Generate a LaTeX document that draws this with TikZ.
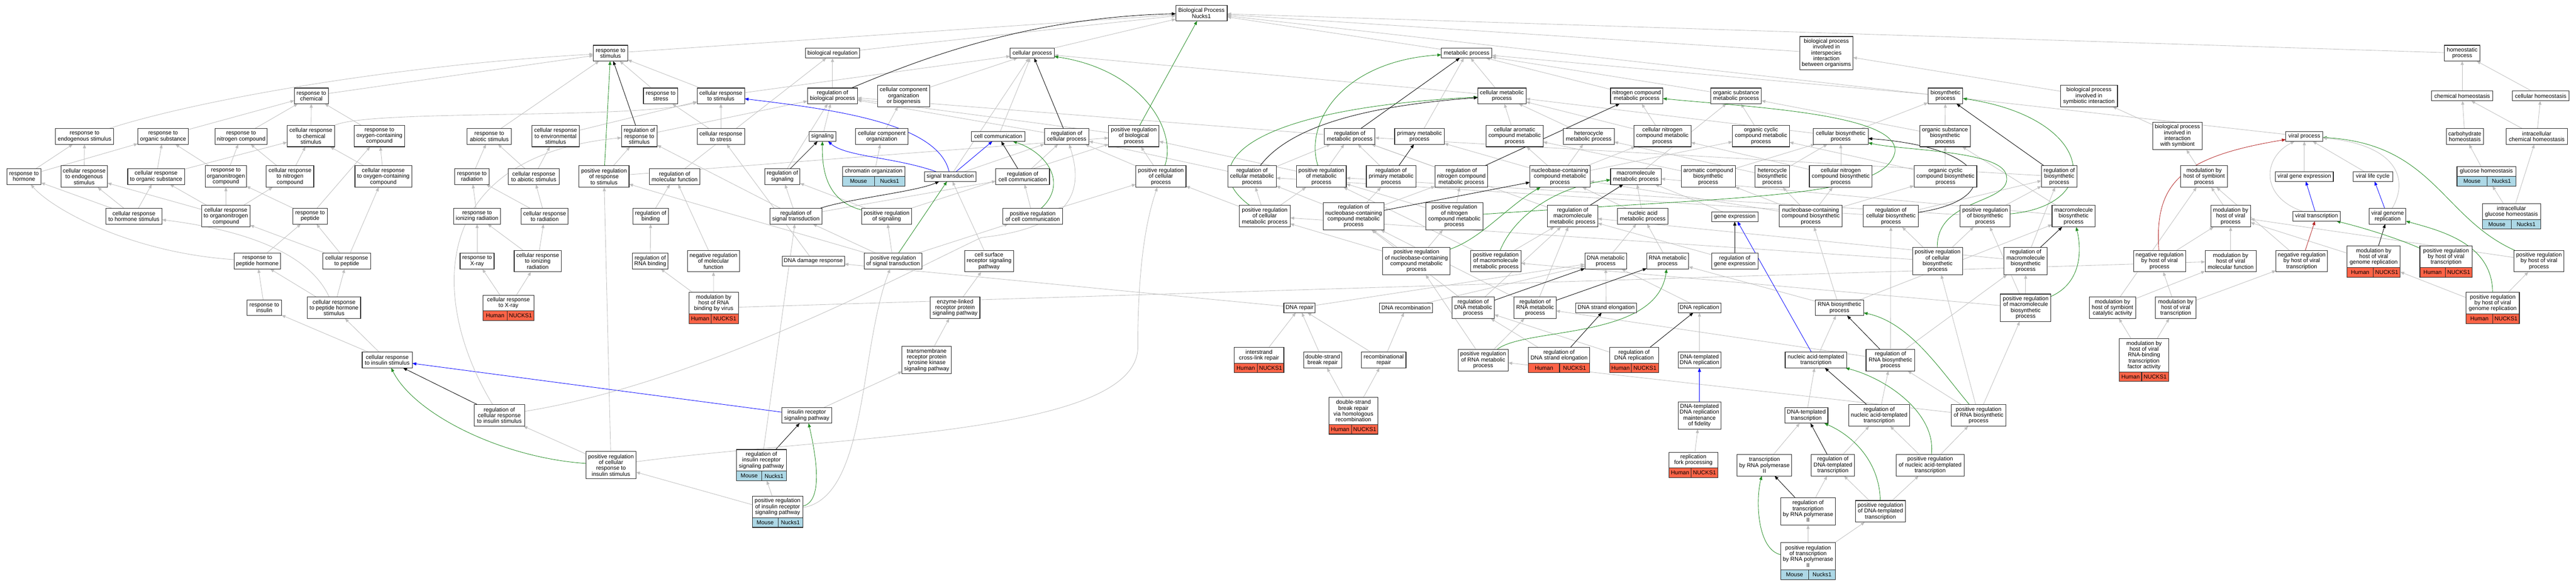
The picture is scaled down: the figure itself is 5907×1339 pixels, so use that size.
\documentclass[tikz,border=0pt]{standalone}
\usepackage{fontspec}
\setmainfont{Liberation Sans}
\usetikzlibrary{arrows.meta,fit}
\pgfdeclarelayer{background}
\pgfsetlayers{background,main}
\newcommand\nfont{\fontsize{13}{13.4}\selectfont}
\definecolor{edgegray}{RGB}{190,190,190}
\definecolor{posgreen}{RGB}{34,139,34}
\definecolor{negred}{RGB}{178,34,34}
\definecolor{humanred}{RGB}{255,99,71}
\definecolor{mouseblue}{RGB}{173,216,230}
\definecolor{borderc}{RGB}{40,40,40}
\begin{document}
\begin{tikzpicture}[x=1pt,y=-1pt,
 box/.style={draw=borderc, line width=1.3pt, fill=white, inner xsep=2pt, inner ysep=0pt, outer sep=0pt, align=center, font=\nfont},
 h1/.style={minimum height=22.5pt}, h2/.style={minimum height=36pt}, h3/.style={minimum height=49.4pt},
 h4/.style={minimum height=62.8pt}, h5/.style={minimum height=76.2pt},
 gcell/.style={draw=borderc, line width=1.3pt, inner sep=0pt, outer sep=0pt, minimum height=22pt, font=\nfont},
 human/.style={gcell, fill=humanred}, mouse/.style={gcell, fill=mouseblue},
 fitbox/.style={inner sep=0pt, outer sep=0pt, draw=none},
 isa/.style={draw=edgegray, line width=1pt, -{Triangle[length=9pt,width=7pt]}},
 regl/.style={draw=black, line width=1pt, -{Triangle[length=9pt,width=7pt]}},
 posl/.style={draw=posgreen, line width=1pt, -{Triangle[length=9pt,width=7pt]}},
 partl/.style={draw=blue, line width=1pt, -{Triangle[length=9pt,width=7pt]}},
 negl/.style={draw=negred, line width=1pt, -{Triangle[length=9pt,width=7pt]}}
]
\useasboundingbox (0,0) rectangle (5907,1339);
% ---------- row 30 / 122
\node[box,h2,minimum width=118pt] (root) at (2755,30) {Biological Process\\Nucks1};
\node[box,h2,minimum width=79pt] (resp_stim) at (1400,122) {response to\\stimulus};
\node[box,h1,minimum width=124pt] (bioreg) at (1909,122) {biological regulation};
\node[box,h1,minimum width=101pt] (cellproc) at (2367,122) {cellular process};
\node[box,h1,minimum width=116pt] (metab) at (3363,122) {metabolic process};
\node[box,h5,minimum width=122pt] (bpii) at (4188,122) {biological process\\involved in\\interspecies\\interaction\\between organisms};
\node[box,h2,minimum width=82pt] (homeo) at (5646,122) {homeostatic\\process};
% ---------- row 220
\node[box,h2,minimum width=78pt] (resp_chem) at (714,220) {response to\\chemical};
\node[box,h2,minimum width=79pt] (resp_stress) at (1515,220) {response to\\stress};
\node[box,h2,minimum width=109pt] (cr_stim) at (1653,220) {cellular response\\to stimulus};
\node[box,h2,minimum width=115pt] (reg_bp) at (1909,220) {regulation of\\biological process};
\node[box,h3,minimum width=119pt] (ccob) at (2072,220) {cellular component\\organization\\or biogenesis};
\node[box,h2,minimum width=111pt] (cmp) at (3444,220) {cellular metabolic\\process};
\node[box,h2,minimum width=120pt] (ncmp) at (3753,220) {nitrogen compound\\metabolic process};
\node[box,h2,minimum width=116pt] (osmp) at (3981,220) {organic substance\\metabolic process};
\node[box,h2,minimum width=80pt] (biosyn) at (4461,220) {biosynthetic\\process};
\node[box,h3,minimum width=131pt] (bpsym) at (4790,220) {biological process\\involved in\\symbiotic interaction};
\node[box,h1,minimum width=141pt] (chem_homeo) at (5646,220) {chemical homeostasis};
\node[box,h1,minimum width=130pt] (cell_homeo) at (5826,220) {cellular homeostasis};
% ---------- row 313
\node[box,h2,minimum width=133pt] (resp_endo) at (194,313) {response to\\endogenous stimulus};
\node[box,h2,minimum width=116pt] (resp_org) at (374,313) {response to\\organic substance};
\node[box,h2,minimum width=120pt] (resp_nitro) at (553,313) {response to\\nitrogen compound};
\node[box,h3,minimum width=109pt] (cr_chem) at (713,312) {cellular response\\to chemical\\stimulus};
\node[box,h3,minimum width=116pt] (resp_oxy) at (870,312) {response to\\oxygen-containing\\compound};
\node[box,h2,minimum width=102pt] (resp_abio) at (1122,313) {response to\\abiotic stimulus};
\node[box,h3,minimum width=109pt] (cr_env) at (1274,312) {cellular response\\to environmental\\stimulus};
\node[box,h3,minimum width=82pt] (reg_resp_stim) at (1466,312) {regulation of\\response to\\stimulus};
\node[box,h2,minimum width=109pt] (cr_stress) at (1653,313) {cellular response\\to stress};
\node[box,h1,minimum width=61pt] (signaling) at (1886,313) {signaling};
\node[box,h2,minimum width=120pt] (cco) at (2022,313) {cellular component\\organization};
\node[box,h1,minimum width=123pt] (cellcomm) at (2289,313) {cell communication};
\node[box,h2,minimum width=102pt] (reg_cellproc) at (2446,313) {regulation of\\cellular process};
\node[box,h3,minimum width=116pt] (pos_reg_bp) at (2600,312) {positive regulation\\of biological\\process};
\node[box,h2,minimum width=116pt] (reg_metab) at (3095,313) {regulation of\\metabolic process};
\node[box,h2,minimum width=114pt] (pmp) at (3255,313) {primary metabolic\\process};
\node[box,h3,minimum width=131pt] (cacmp) at (3473,312) {cellular aromatic\\compound metabolic\\process};
\node[box,h2,minimum width=117pt] (hmp) at (3643,313) {heterocycle\\metabolic process};
\node[box,h3,minimum width=131pt] (cncmp) at (3812,312) {cellular nitrogen\\compound metabolic\\process};
\node[box,h3,minimum width=131pt] (occmp) at (4038,312) {organic cyclic\\compound metabolic\\process};
\node[box,h2,minimum width=126pt] (cbp) at (4221,313) {cellular biosynthetic\\process};
\node[box,h3,minimum width=116pt] (osbp) at (4460,312) {organic substance\\biosynthetic\\process};
\node[box,h4,minimum width=114pt] (bpsymb) at (4993,312) {biological process\\involved in\\interaction\\with symbiont};
\node[box,h1,minimum width=85pt] (viral_proc) at (5284,313) {viral process};
\node[box,h2,minimum width=85pt] (carb_homeo) at (5652,313) {carbohydrate\\homeostasis};
\node[box,h2,minimum width=140pt] (icell_chem) at (5817,313) {intracellular\\chemical homeostasis};
% ---------- row 405
\node[box,h2,minimum width=78pt] (resp_horm) at (55,405) {response to\\hormone};
\node[box,h3,minimum width=107pt] (cr_endo) at (193,405) {cellular response\\to endogenous\\stimulus};
\node[box,h2,minimum width=130pt] (cr_org) at (358,405) {cellular response\\to organic substance};
\node[box,h3,minimum width=94pt] (resp_orgN) at (518,405) {response to\\organonitrogen\\compound};
\node[box,h3,minimum width=109pt] (cr_nitro) at (665,405) {cellular response\\to nitrogen\\compound};
\node[box,h3,minimum width=130pt] (cr_oxy) at (879,405) {cellular response\\to oxygen-containing\\compound};
\node[box,h2,minimum width=79pt] (resp_rad) at (1082,405) {response to\\radiation};
\node[box,h2,minimum width=117pt] (cr_abio) at (1224,405) {cellular response\\to abiotic stimulus};
\node[box,h3,minimum width=115pt] (pos_reg_resp_stim) at (1385,405) {positive regulation\\of response\\to stimulus};
\node[box,h2,minimum width=116pt] (reg_molfunc) at (1547,405) {regulation of\\molecular function};
\node[box,h2,minimum width=81pt] (reg_signaling) at (1794,405) {regulation of\\signaling};
\node[box,h1,minimum width=119pt] (sigtrans) at (2179,405) {signal transduction};
\node[box,h2,minimum width=123pt] (reg_cellcomm) at (2345,405) {regulation of\\cell communication};
\node[box,h3,minimum width=115pt] (pos_reg_cellproc) at (2662,405) {positive regulation\\of cellular\\process};
\node[box,h3,minimum width=111pt] (reg_cmp) at (2871,405) {regulation of\\cellular metabolic\\process};
\node[box,h3,minimum width=114pt] (pos_reg_metab) at (3030,405) {positive regulation\\of metabolic\\process};
\node[box,h3,minimum width=114pt] (reg_pmp) at (3190,405) {regulation of\\primary metabolic\\process};
\node[box,h3,minimum width=121pt] (reg_ncmp) at (3351,405) {regulation of\\nitrogen compound\\metabolic process};
\node[box,h3,minimum width=138pt] (nbcmp) at (3577,405) {nucleobase-containing\\compound metabolic\\process};
\node[box,h2,minimum width=116pt] (mmp) at (3751,405) {macromolecule\\metabolic process};
\node[box,h3,minimum width=124pt] (acbp) at (3917,405) {aromatic compound\\biosynthetic\\process};
\node[box,h3,minimum width=80pt] (hbp) at (4064,405) {heterocycle\\biosynthetic\\process};
\node[box,h3,minimum width=144pt] (cncbp) at (4221,405) {cellular nitrogen\\compound biosynthetic\\process};
\node[box,h3,minimum width=144pt] (occbp) at (4461,405) {organic cyclic\\compound biosynthetic\\process};
\node[box,h3,minimum width=82pt] (reg_bsp) at (4722,405) {regulation of\\biosynthetic\\process};
\node[box,h3,minimum width=107pt] (modhost_symb) at (5054,405) {modulation by\\host of symbiont\\process};
\node[box,h1,minimum width=133pt] (viral_ge) at (5284,405) {viral gene expression};
\node[box,h1,minimum width=91pt] (viral_lc) at (5441,405) {viral life cycle};
% ---------- row 496
\node[box,h2,minimum width=129pt] (cr_horm) at (307,496) {cellular response\\to hormone stimulus};
\node[box,h3,minimum width=111pt] (cr_orgN) at (518,496) {cellular response\\to organonitrogen\\compound};
\node[box,h2,minimum width=79pt] (resp_pep) at (711,496) {response to\\peptide};
\node[box,h2,minimum width=107pt] (resp_ionrad) at (1094,496) {response to\\ionizing radiation};
\node[box,h2,minimum width=108pt] (cr_rad) at (1249,496) {cellular response\\to radiation};
\node[box,h2,minimum width=81pt] (reg_binding) at (1492,496) {regulation of\\binding};
\node[box,h2,minimum width=119pt] (reg_sigtrans) at (1825,496) {regulation of\\signal transduction};
\node[box,h2,minimum width=115pt] (pos_reg_signaling) at (2033,496) {positive regulation\\of signaling};
\node[box,h2,minimum width=137pt] (pos_reg_cellcomm) at (2368,496) {positive regulation\\of cell communication};
\node[box,h3,minimum width=117pt] (pos_reg_cmp) at (2900,496) {positive regulation\\of cellular\\metabolic process};
\node[box,h4,minimum width=139pt] (reg_nbcmp) at (3104,496) {regulation of\\nucleobase-containing\\compound metabolic\\process};
\node[box,h4,minimum width=132pt] (pos_reg_ncmp) at (3335,496) {positive regulation\\of nitrogen\\compound metabolic\\process};
\node[box,h3,minimum width=116pt] (reg_mmp) at (3606,496) {regulation of\\macromolecule\\metabolic process};
\node[box,h2,minimum width=116pt] (namp) at (3767,496) {nucleic acid\\metabolic process};
\node[box,h1,minimum width=106pt] (gene_expr) at (3978,497) {gene expression};
\node[box,h3,minimum width=144pt] (nbcbp) at (4152,496) {nucleobase-containing\\compound biosynthetic\\process};
\node[box,h3,minimum width=126pt] (reg_cbp) at (4336,496) {regulation of\\cellular biosynthetic\\process};
\node[box,h3,minimum width=114pt] (pos_reg_bsp) at (4552,496) {positive regulation\\of biosynthetic\\process};
\node[box,h3,minimum width=99pt] (macbp) at (4755,496) {macromolecule\\biosynthetic\\process};
\node[box,h3,minimum width=91pt] (modhost_vp) at (5115,496) {modulation by\\host of viral\\process};
\node[box,h1,minimum width=109pt] (viral_trans) at (5312,496) {viral transcription};
\node[box,h2,minimum width=84pt] (viral_genrep) at (5475,496) {viral genome\\replication};
% ---------- row 599
\node[box,h2,minimum width=107pt] (resp_pephorm) at (590,599) {response to\\peptide hormone};
\node[box,h2,minimum width=109pt] (cr_pep) at (795,599) {cellular response\\to peptide};
\node[box,h2,minimum width=78pt] (resp_xray) at (1094,599) {response to\\X-ray};
\node[box,h3,minimum width=108pt] (cr_ionrad) at (1233,599) {cellular response\\to ionizing\\radiation};
\node[box,h2,minimum width=82pt] (reg_rnabind) at (1491,599) {regulation of\\RNA binding};
\node[box,h3,minimum width=119pt] (neg_reg_molfunc) at (1636,599) {negative regulation\\of molecular\\function};
\node[box,h1,minimum width=143pt] (dna_damage) at (1865,599) {DNA damage response};
\node[box,h2,minimum width=133pt] (pos_reg_sigtrans) at (2048,599) {positive regulation\\of signal transduction};
\node[box,h3,minimum width=112pt] (csrsp) at (2268,599) {cell surface\\receptor signaling\\pathway};
\node[box,h4,minimum width=155pt] (pos_reg_nbcmp) at (3248,599) {positive regulation\\of nucleobase-containing\\compound metabolic\\process};
\node[box,h3,minimum width=116pt] (pos_reg_mmp) at (3430,599) {positive regulation\\of macromolecule\\metabolic process};
\node[box,h2,minimum width=96pt] (dnamp) at (3682,599) {DNA metabolic\\process};
\node[box,h2,minimum width=96pt] (rnamp) at (3824,599) {RNA metabolic\\process};
\node[box,h2,minimum width=106pt] (reg_gene_expr) at (3978,599) {regulation of\\gene expression};
\node[box,h4,minimum width=115pt] (pos_reg_cbp) at (4443,599) {positive regulation\\of cellular\\biosynthetic\\process};
\node[box,h4,minimum width=99pt] (reg_macbp) at (4645,599) {regulation of\\macromolecule\\biosynthetic\\process};
\node[box,h3,minimum width=119pt] (neg_reg_hvp) at (4952,599) {negative regulation\\by host of viral\\process};
\node[box,h3,minimum width=117pt] (modhost_vmf) at (5115,599) {modulation by\\host of viral\\molecular function};
\node[box,h3,minimum width=118pt] (neg_reg_hvt) at (5278,599) {negative regulation\\by host of viral\\transcription};
\node[box,h3,minimum width=115pt] (pos_reg_hvp) at (5822,599) {positive regulation\\by host of viral\\process};
% ---------- row 706
\node[box,h2,minimum width=79pt] (resp_ins) at (606,706) {response to\\insulin};
\node[box,h3,minimum width=122pt] (cr_pephorm) at (766,706) {cellular response\\to peptide hormone\\stimulus};
\node[box,h3,minimum width=114pt] (enzyme) at (2190,706) {enzyme-linked\\receptor protein\\signaling pathway};
\node[box,h1,minimum width=72pt] (dna_repair) at (2980,706) {DNA repair};
\node[box,h1,minimum width=121pt] (dna_recomb) at (3224,706) {DNA recombination};
\node[box,h3,minimum width=97pt] (reg_dnamp) at (3378,706) {regulation of\\DNA metabolic\\process};
\node[box,h3,minimum width=96pt] (reg_rnamp) at (3520,706) {regulation of\\RNA metabolic\\process};
\node[box,h1,minimum width=140pt] (dna_strand) at (3683,706) {DNA strand elongation};
\node[box,h1,minimum width=98pt] (dna_repl) at (3897,706) {DNA replication};
\node[box,h2,minimum width=111pt] (rnabp) at (4218,706) {RNA biosynthetic\\process};
\node[box,h4,minimum width=116pt] (pos_reg_macbp) at (4645,706) {positive regulation\\of macromolecule\\biosynthetic\\process};
\node[box,h3,minimum width=106pt] (modhost_cat) at (4844,706) {modulation by\\host of symbiont\\catalytic activity};
\node[box,h3,minimum width=93pt] (modhost_vtrans) at (4989,706) {modulation by\\host of viral\\transcription};
% ---------- row 826
\node[box,h2,minimum width=115pt] (cr_ins) at (888,826) {cellular response\\to insulin stimulus};
\node[box,h4,minimum width=113pt] (rtk) at (2125,826) {transmembrane\\receptor protein\\tyrosine kinase\\signaling pathway};
\node[box,h2,minimum width=88pt] (dsbr) at (3033,826) {double-strand\\break repair};
\node[box,h2,minimum width=102pt] (recomb_repair) at (3173,826) {recombinational\\repair};
\node[box,h3,minimum width=115pt] (pos_reg_rnamp) at (3401,826) {positive regulation\\of RNA metabolic\\process};
\node[box,h2,minimum width=98pt] (dtdr) at (3897,826) {DNA-templated\\DNA replication};
\node[box,h2,minimum width=141pt] (natt) at (4164,826) {nucleic acid-templated\\transcription};
\node[box,h3,minimum width=112pt] (reg_rnabp) at (4335,826) {regulation of\\RNA biosynthetic\\process};
% ---------- row 953
\node[box,h3,minimum width=116pt] (reg_cr_ins) at (1145,953) {regulation of\\cellular response\\to insulin stimulus};
\node[box,h2,minimum width=114pt] (irsp) at (1850,953) {insulin receptor\\signaling pathway};
\node[box,h4,minimum width=98pt] (dtdr_fid) at (3897,953) {DNA-templated\\DNA replication\\maintenance\\of fidelity};
\node[box,h2,minimum width=99pt] (dtt) at (4142,953) {DNA-templated\\transcription};
\node[box,h3,minimum width=140pt] (reg_natt) at (4309,953) {regulation of\\nucleic acid-templated\\transcription};
\node[box,h3,minimum width=126pt] (pos_reg_rnabp) at (4537,953) {positive regulation\\of RNA biosynthetic\\process};
% ---------- row 1067 / 1173
\node[box,h4,minimum width=115pt] (pos_reg_cr_ins) at (1401,1067) {positive regulation\\of cellular\\response to\\insulin stimulus};
\node[box,h3,minimum width=125pt] (trpii) at (4046,1067) {transcription\\by RNA polymerase\\II};
\node[box,h3,minimum width=99pt] (reg_dtt) at (4203,1067) {regulation of\\DNA-templated\\transcription};
\node[box,h3,minimum width=155pt] (pos_reg_natt) at (4426,1067) {positive regulation\\of nucleic acid-templated\\transcription};
\node[box,h4,minimum width=125pt] (reg_trpii) at (4146,1173) {regulation of\\transcription\\by RNA polymerase\\II};
\node[box,h3,minimum width=115pt] (pos_reg_dtt) at (4312,1173) {positive regulation\\of DNA-templated\\transcription};
% ---------- annotated nodes (term + species/gene row)
\node[box,h1,minimum width=143pt] (chromatin-t) at (2003.5,393.5) {chromatin organization};
\node[mouse,minimum width=73pt,anchor=north west] (chromatin-a) at (chromatin-t.south west) {Mouse};
\node[mouse,minimum width=70pt,anchor=north east] (chromatin-b) at (chromatin-t.south east) {Nucks1};
\node[fitbox,fit=(chromatin-t)(chromatin-a)(chromatin-b)] (chromatin) {};
\node[box,h1,minimum width=135pt] (glucose_homeo-t) at (5701.5,393.5) {glucose homeostasis};
\node[mouse,minimum width=69pt,anchor=north west] (glucose_homeo-a) at (glucose_homeo-t.south west) {Mouse};
\node[mouse,minimum width=66pt,anchor=north east] (glucose_homeo-b) at (glucose_homeo-t.south east) {Nucks1};
\node[fitbox,fit=(glucose_homeo-t)(glucose_homeo-a)(glucose_homeo-b)] (glucose_homeo) {};
\node[box,h2,minimum width=134pt] (icell_glu-t) at (5759,485.5) {intracellular\\glucose homeostasis};
\node[mouse,minimum width=67pt,anchor=north west] (icell_glu-a) at (icell_glu-t.south west) {Mouse};
\node[mouse,minimum width=67pt,anchor=north east] (icell_glu-b) at (icell_glu-t.south east) {Nucks1};
\node[fitbox,fit=(icell_glu-t)(icell_glu-a)(icell_glu-b)] (icell_glu) {};
\node[box,h2,minimum width=116pt] (cr_xray-t) at (1166,695) {cellular response\\to X-ray};
\node[human,minimum width=55pt,anchor=north west] (cr_xray-a) at (cr_xray-t.south west) {Human};
\node[human,minimum width=61pt,anchor=north east] (cr_xray-b) at (cr_xray-t.south east) {NUCKS1};
\node[fitbox,fit=(cr_xray-t)(cr_xray-a)(cr_xray-b)] (cr_xray) {};
\node[box,h3,minimum width=113pt] (modhost_rnabind-t) at (1636.5,695.5) {modulation by\\host of RNA\\binding by virus};
\node[human,minimum width=51pt,anchor=north west] (modhost_rnabind-a) at (modhost_rnabind-t.south west) {Human};
\node[human,minimum width=62pt,anchor=north east] (modhost_rnabind-b) at (modhost_rnabind-t.south east) {NUCKS1};
\node[fitbox,fit=(modhost_rnabind-t)(modhost_rnabind-a)(modhost_rnabind-b)] (modhost_rnabind) {};
\node[box,h3,minimum width=114pt] (reg_irsp-t) at (1746,1056) {regulation of\\insulin receptor\\signaling pathway};
\node[mouse,minimum width=58pt,anchor=north west] (reg_irsp-a) at (reg_irsp-t.south west) {Mouse};
\node[mouse,minimum width=56pt,anchor=north east] (reg_irsp-b) at (reg_irsp-t.south east) {Nucks1};
\node[fitbox,fit=(reg_irsp-t)(reg_irsp-a)(reg_irsp-b)] (reg_irsp) {};
\node[box,h3,minimum width=116pt] (pos_reg_irsp-t) at (1783,1163) {positive regulation\\of insulin receptor\\signaling pathway};
\node[mouse,minimum width=59pt,anchor=north west] (pos_reg_irsp-a) at (pos_reg_irsp-t.south west) {Mouse};
\node[mouse,minimum width=57pt,anchor=north east] (pos_reg_irsp-b) at (pos_reg_irsp-t.south east) {Nucks1};
\node[fitbox,fit=(pos_reg_irsp-t)(pos_reg_irsp-a)(pos_reg_irsp-b)] (pos_reg_irsp) {};
\node[box,h2,minimum width=114pt] (icl-t) at (2887,815) {interstrand\\cross-link repair};
\node[human,minimum width=53pt,anchor=north west] (icl-a) at (icl-t.south west) {Human};
\node[human,minimum width=61pt,anchor=north east] (icl-b) at (icl-t.south east) {NUCKS1};
\node[fitbox,fit=(icl-t)(icl-a)(icl-b)] (icl) {};
\node[box,h2,minimum width=140pt] (reg_dna_strand-t) at (3575,815) {regulation of\\DNA strand elongation};
\node[human,minimum width=71pt,anchor=north west] (reg_dna_strand-a) at (reg_dna_strand-t.south west) {Human};
\node[human,minimum width=69pt,anchor=north east] (reg_dna_strand-b) at (reg_dna_strand-t.south east) {NUCKS1};
\node[fitbox,fit=(reg_dna_strand-t)(reg_dna_strand-a)(reg_dna_strand-b)] (reg_dna_strand) {};
\node[box,h2,minimum width=112pt] (reg_dna_repl-t) at (3747,815) {regulation of\\DNA replication};
\node[human,minimum width=50pt,anchor=north west] (reg_dna_repl-a) at (reg_dna_repl-t.south west) {Human};
\node[human,minimum width=62pt,anchor=north east] (reg_dna_repl-b) at (reg_dna_repl-t.south east) {NUCKS1};
\node[fitbox,fit=(reg_dna_repl-t)(reg_dna_repl-a)(reg_dna_repl-b)] (reg_dna_repl) {};
\node[box,h4,minimum width=113pt] (dsbr_hr-t) at (3103.5,942.5) {double-strand\\break repair\\via homologous\\recombination};
\node[human,minimum width=52pt,anchor=north west] (dsbr_hr-a) at (dsbr_hr-t.south west) {Human};
\node[human,minimum width=61pt,anchor=north east] (dsbr_hr-b) at (dsbr_hr-t.south east) {NUCKS1};
\node[fitbox,fit=(dsbr_hr-t)(dsbr_hr-a)(dsbr_hr-b)] (dsbr_hr) {};
\node[box,h2,minimum width=112pt] (rfp-t) at (3883,1055.5) {replication\\fork processing};
\node[human,minimum width=51pt,anchor=north west] (rfp-a) at (rfp-t.south west) {Human};
\node[human,minimum width=61pt,anchor=north east] (rfp-b) at (rfp-t.south east) {NUCKS1};
\node[fitbox,fit=(rfp-t)(rfp-a)(rfp-b)] (rfp) {};
\node[box,h4,minimum width=126pt] (pos_reg_trpii-t) at (4146,1276) {positive regulation\\of transcription\\by RNA polymerase\\II};
\node[mouse,minimum width=64pt,anchor=north west] (pos_reg_trpii-a) at (pos_reg_trpii-t.south west) {Mouse};
\node[mouse,minimum width=62pt,anchor=north east] (pos_reg_trpii-b) at (pos_reg_trpii-t.south east) {Nucks1};
\node[fitbox,fit=(pos_reg_trpii-t)(pos_reg_trpii-a)(pos_reg_trpii-b)] (pos_reg_trpii) {};
\node[box,h5,minimum width=113pt] (modhost_rnabtf-t) at (4916.5,815) {modulation by\\host of viral\\RNA-binding\\transcription\\factor activity};
\node[human,minimum width=51pt,anchor=north west] (modhost_rnabtf-a) at (modhost_rnabtf-t.south west) {Human};
\node[human,minimum width=62pt,anchor=north east] (modhost_rnabtf-b) at (modhost_rnabtf-t.south east) {NUCKS1};
\node[fitbox,fit=(modhost_rnabtf-t)(modhost_rnabtf-a)(modhost_rnabtf-b)] (modhost_rnabtf) {};
\node[box,h3,minimum width=122pt] (modhost_vgr-t) at (5443,589) {modulation by\\host of viral\\genome replication};
\node[human,minimum width=60pt,anchor=north west] (modhost_vgr-a) at (modhost_vgr-t.south west) {Human};
\node[human,minimum width=62pt,anchor=north east] (modhost_vgr-b) at (modhost_vgr-t.south east) {NUCKS1};
\node[fitbox,fit=(modhost_vgr-t)(modhost_vgr-a)(modhost_vgr-b)] (modhost_vgr) {};
\node[box,h3,minimum width=120pt] (pos_reg_hvt-t) at (5609,589) {positive regulation\\by host of viral\\transcription};
\node[human,minimum width=58pt,anchor=north west] (pos_reg_hvt-a) at (pos_reg_hvt-t.south west) {Human};
\node[human,minimum width=62pt,anchor=north east] (pos_reg_hvt-b) at (pos_reg_hvt-t.south east) {NUCKS1};
\node[fitbox,fit=(pos_reg_hvt-t)(pos_reg_hvt-a)(pos_reg_hvt-b)] (pos_reg_hvt) {};
\node[box,h3,minimum width=122pt] (pos_reg_hvgr-t) at (5716,695.5) {positive regulation\\by host of viral\\genome replication};
\node[human,minimum width=61pt,anchor=north west] (pos_reg_hvgr-a) at (pos_reg_hvgr-t.south west) {Human};
\node[human,minimum width=61pt,anchor=north east] (pos_reg_hvgr-b) at (pos_reg_hvgr-t.south east) {NUCKS1};
\node[fitbox,fit=(pos_reg_hvgr-t)(pos_reg_hvgr-a)(pos_reg_hvgr-b)] (pos_reg_hvgr) {};
% ================= edges (behind the boxes)
\begin{pgfonlayer}{background}
\foreach \a/\b in {resp_chem/resp_stim, resp_abio/resp_stim, resp_stress/resp_stim, cr_stim/resp_stim,
 resp_stim/root, bioreg/root, cellproc/root, metab/root, bpii/root, homeo/root, viral_proc/root,
 resp_org/resp_chem, resp_nitro/resp_chem, cr_chem/resp_chem, resp_oxy/resp_chem,
 cr_env/cr_stim, cr_stress/cr_stim, cr_stim/cellproc, reg_bp/bioreg, reg_molfunc/bioreg,
 resp_horm/resp_endo, resp_horm/resp_org, cr_endo/resp_endo,
 cr_org/cr_chem, cr_org/resp_org, resp_orgN/resp_org, resp_orgN/resp_nitro, cr_nitro/resp_nitro, cr_nitro/cr_chem,
 cr_oxy/cr_chem, cr_oxy/resp_oxy, resp_pep/resp_oxy, resp_pep/resp_orgN,
 cr_horm/resp_horm, cr_horm/cr_endo, cr_horm/cr_org,
 cr_orgN/cr_endo, cr_orgN/cr_org, cr_orgN/resp_orgN, cr_orgN/cr_nitro,
 resp_pephorm/resp_pep, cr_pep/resp_pep, cr_pep/cr_orgN, cr_pep/cr_oxy,
 resp_ins/resp_pephorm, cr_pephorm/resp_pephorm, cr_pephorm/cr_pep,
 cr_ins/resp_ins, cr_ins/cr_pephorm,
 resp_rad/resp_abio, cr_abio/resp_abio, cr_abio/cr_env,
 pos_reg_resp_stim/reg_resp_stim, pos_reg_resp_stim/pos_reg_bp, reg_resp_stim/reg_bp, cr_stress/resp_stress,
 signaling/reg_bp, reg_signaling/reg_bp, reg_cellproc/reg_bp, pos_reg_bp/reg_bp, reg_metab/reg_bp,
 reg_sigtrans/reg_signaling, reg_sigtrans/reg_resp_stim, reg_sigtrans/reg_cellcomm,
 pos_reg_signaling/reg_signaling, pos_reg_signaling/pos_reg_bp,
 reg_binding/reg_molfunc, neg_reg_molfunc/reg_molfunc,
 resp_ionrad/resp_rad, cr_rad/resp_rad, cr_rad/cr_abio, resp_xray/resp_ionrad, cr_ionrad/resp_ionrad, cr_ionrad/cr_rad,
 reg_rnabind/reg_binding, cr_xray/resp_xray, cr_xray/cr_ionrad,
 modhost_rnabind/reg_rnabind, modhost_rnabind/neg_reg_molfunc, modhost_rnabind/modhost_vmf,
 dna_damage/cr_stress, dna_repair/dna_damage,
 pos_reg_cr_ins/pos_reg_resp_stim,
 reg_irsp/reg_sigtrans, pos_reg_sigtrans/reg_sigtrans,
 ccob/cellproc, cco/ccob, chromatin/cco, sigtrans/cellproc, cellcomm/cellproc, cmp/cellproc,
 sigtrans/reg_cellproc, reg_cellcomm/reg_cellproc, pos_reg_cellproc/reg_cellproc, reg_cmp/reg_cellproc,
 pos_reg_cellcomm/reg_cellcomm, pos_reg_cellproc/pos_reg_bp,
 pos_reg_cmp/pos_reg_cellproc, pos_reg_cmp/reg_cmp, pos_reg_cmp/pos_reg_metab, reg_cmp/reg_metab,
 pos_reg_metab/reg_metab, pos_reg_metab/pos_reg_bp, pos_reg_cellcomm/pos_reg_cellproc,
 pos_reg_sigtrans/pos_reg_signaling, pos_reg_sigtrans/pos_reg_cellcomm, csrsp/sigtrans,
 pos_reg_irsp/reg_irsp, pos_reg_irsp/pos_reg_cr_ins,
 irsp/rtk, rtk/enzyme, enzyme/csrsp, pos_reg_cr_ins/reg_cr_ins, icl/dna_repair,
 cmp/metab, pmp/metab, ncmp/metab, osmp/metab, biosyn/metab,
 cacmp/cmp, hmp/cmp, cncmp/cmp, cbp/cmp, cncmp/ncmp, occmp/osmp, mmp/osmp, osbp/osmp,
 nbcmp/pmp, nbcmp/cacmp, nbcmp/hmp, nbcmp/cncmp, nbcmp/occmp,
 reg_pmp/reg_metab, reg_ncmp/reg_metab, reg_nbcmp/reg_cmp, reg_nbcmp/reg_pmp, reg_nbcmp/reg_ncmp,
 pos_reg_ncmp/reg_ncmp, pos_reg_ncmp/pos_reg_metab,
 pos_reg_nbcmp/reg_nbcmp, pos_reg_nbcmp/pos_reg_ncmp, pos_reg_nbcmp/pos_reg_cmp,
 reg_mmp/reg_metab, namp/mmp, namp/nbcmp, gene_expr/mmp, reg_gene_expr/reg_mmp,
 dnamp/namp, rnamp/namp, pos_reg_mmp/reg_mmp, pos_reg_mmp/pos_reg_metab,
 dna_strand/dnamp, dna_repair/dnamp, dna_recomb/dnamp, dna_repl/dnamp,
 reg_dnamp/reg_mmp, reg_dnamp/reg_nbcmp, reg_rnamp/reg_mmp, reg_rnamp/reg_nbcmp,
 reg_dna_strand/reg_dnamp, reg_dna_repl/reg_dnamp, dtdr/dna_repl, rfp/dtdr_fid,
 dsbr/dna_repair, recomb_repair/dna_repair, recomb_repair/dna_recomb, dsbr_hr/dsbr, dsbr_hr/recomb_repair,
 pos_reg_rnamp/reg_rnamp, pos_reg_rnamp/pos_reg_nbcmp, pos_reg_rnabp/pos_reg_rnamp, reg_rnabp/reg_rnamp,
 bpsym/bpii, bpsymb/bpsym, cbp/biosyn, osbp/biosyn,
 occbp/osbp, occbp/occmp, cncbp/cbp, cncbp/cncmp, hbp/cbp, hbp/hmp, acbp/cacmp, acbp/cbp, reg_bsp/reg_metab,
 nbcbp/nbcmp, nbcbp/hbp, nbcbp/cncbp, nbcbp/occbp, nbcbp/acbp,
 reg_cbp/reg_bsp, reg_cbp/reg_cmp, pos_reg_bsp/reg_bsp, pos_reg_bsp/pos_reg_metab, macbp/osbp, macbp/mmp,
 pos_reg_cbp/reg_cbp, pos_reg_cbp/pos_reg_bsp, pos_reg_cbp/pos_reg_cmp, reg_macbp/reg_bsp, reg_macbp/reg_mmp,
 pos_reg_macbp/reg_macbp, pos_reg_macbp/pos_reg_bsp, pos_reg_macbp/pos_reg_mmp,
 pos_reg_rnabp/pos_reg_cbp, pos_reg_rnabp/pos_reg_macbp, pos_reg_rnabp/reg_rnabp,
 reg_rnabp/reg_macbp, reg_rnabp/reg_cbp, rnabp/nbcbp, rnabp/macbp, rnabp/rnamp,
 natt/rnabp, dtt/natt, reg_natt/reg_rnabp, pos_reg_natt/reg_natt, pos_reg_natt/pos_reg_rnabp,
 trpii/dtt, reg_dtt/reg_natt, reg_trpii/reg_dtt, pos_reg_dtt/reg_dtt, pos_reg_dtt/pos_reg_natt,
 pos_reg_trpii/reg_trpii, pos_reg_trpii/pos_reg_dtt,
 modhost_rnabtf/modhost_cat, modhost_rnabtf/modhost_vtrans, modhost_cat/modhost_vmf, modhost_cat/modhost_symb,
 modhost_vtrans/neg_reg_hvp, modhost_vtrans/neg_reg_hvt, neg_reg_hvp/modhost_vp, modhost_symb/bpsymb,
 modhost_vp/modhost_symb, modhost_vmf/modhost_vp, neg_reg_hvt/modhost_symb, modhost_vgr/modhost_vp,
 pos_reg_hvp/modhost_vp, pos_reg_hvgr/modhost_vgr, pos_reg_hvgr/pos_reg_hvp,
 viral_ge/viral_proc, viral_lc/viral_proc,
 chem_homeo/homeo, cell_homeo/homeo, carb_homeo/chem_homeo, icell_chem/chem_homeo, icell_chem/cell_homeo,
 glucose_homeo/carb_homeo, icell_glu/glucose_homeo, icell_glu/icell_chem}
 \draw[isa] (\a) -- (\b);
\foreach \a/\b in {reg_resp_stim/resp_stim, reg_signaling/signaling,
 reg_cellproc/cellproc, reg_cellcomm/cellcomm, reg_metab/metab, reg_pmp/pmp, reg_ncmp/ncmp,
 reg_nbcmp/nbcmp, reg_mmp/mmp, reg_gene_expr/gene_expr, reg_dnamp/dnamp, reg_rnamp/rnamp,
 reg_dna_strand/dna_strand, reg_dna_repl/dna_repl, reg_cr_ins/cr_ins, reg_irsp/irsp, reg_bsp/biosyn,
 reg_macbp/macbp, reg_rnabp/rnabp, reg_natt/natt, reg_dtt/dtt, reg_trpii/trpii, modhost_vgr/viral_genrep}
 \draw[regl] (\a) -- (\b);
\foreach \a/\b in {pos_reg_resp_stim/resp_stim, pos_reg_bp/root, pos_reg_sigtrans/sigtrans}
 \draw[posl] (\a) -- (\b);
\foreach \a/\b in {sigtrans/cellcomm, irsp/cr_ins, natt/gene_expr,
 dtdr_fid/dtdr, viral_trans/viral_ge, viral_genrep/viral_lc}
 \draw[partl] (\a) -- (\b);
\draw[negl] (neg_reg_hvt) -- (viral_trans);
% curved connectors
\draw[posl] (pos_reg_cellproc) .. controls (2700,300) and (2620,160) .. (cellproc);
\draw[posl] (pos_reg_metab) .. controls (2990,280) and (3080,140) .. (metab);
\draw[posl] (pos_reg_bsp) .. controls (4830,470) and (4800,270) .. (biosyn);
\draw[regl] (reg_cbp) .. controls (4590,460) and (4580,340) .. (cbp);
\draw[posl] (pos_reg_cbp) .. controls (4440,450) and (4620,470) .. (4600,400) .. controls (4585,345) and (4360,345) .. (cbp);
\draw[posl] (pos_reg_nbcmp) .. controls (3400,545) and (3460,470) .. (nbcmp);
\draw[posl] (pos_reg_mmp) .. controls (3470,500) and (3560,430) .. (mmp);
\draw[posl] (pos_reg_ncmp) .. controls (4000,450) and (4320,455) .. (4345,350) .. controls (4360,260) and (4000,245) .. (ncmp);
\draw[posl] (pos_reg_cmp) .. controls (2740,380) and (2850,250) .. (cmp);
\draw[regl] (reg_cmp) .. controls (2950,300) and (3100,245) .. (cmp);
\draw[regl] (reg_bp) .. controls (2100,140) and (2350,40) .. (root);
\draw[posl] (pos_reg_cellcomm) .. controls (2450,420) and (2400,350) .. (cellcomm);
\draw[posl] (pos_reg_signaling) .. controls (1890,460) and (1885,380) .. (signaling);
\draw[regl] (reg_sigtrans) .. controls (1950,455) and (2100,440) .. (sigtrans);
\draw[partl] (sigtrans) .. controls (2150,280) and (1900,250) .. (cr_stim);
\draw[partl] (sigtrans) .. controls (2050,360) and (1940,360) .. (signaling);
\draw[posl] (pos_reg_cr_ins) .. controls (1150,1050) and (950,950) .. (cr_ins);
\draw[posl] (pos_reg_irsp) .. controls (1890,1150) and (1870,1040) .. (irsp);
\draw[posl] (pos_reg_rnabp) .. controls (4450,850) and (4380,740) .. (rnabp);
\draw[posl] (pos_reg_natt) .. controls (4440,950) and (4330,870) .. (natt);
\draw[posl] (pos_reg_dtt) .. controls (4310,1060) and (4250,1000) .. (dtt);
\draw[posl] (pos_reg_trpii) .. controls (4030,1260) and (4025,1150) .. (trpii);
\draw[posl] (pos_reg_macbp) .. controls (4770,650) and (4775,580) .. (macbp);
\draw[posl] (pos_reg_rnamp) .. controls (3500,750) and (3800,780) .. (rnamp);
\draw[posl] (pos_reg_hvt) .. controls (5530,560) and (5450,530) .. (viral_trans);
\draw[posl] (pos_reg_hvgr) .. controls (5715,560) and (5600,530) .. (viral_genrep);
\draw[posl] (pos_reg_hvp) .. controls (5600,500) and (5580,330) .. (viral_proc);
\draw[negl] (neg_reg_hvp) .. controls (4940,420) and (5000,360) .. (viral_proc);
\draw[isa] (viral_trans) .. controls (5180,450) and (5190,360) .. (viral_proc);
\draw[isa] (viral_genrep) .. controls (5530,400) and (5480,330) .. (viral_proc);
\draw[isa] (cr_chem) .. controls (850,250) and (1450,275) .. (cr_stim);
\draw[isa] (resp_endo) .. controls (450,230) and (900,150) .. (resp_stim);
\draw[isa] (resp_pephorm) .. controls (300,580) and (120,480) .. (resp_horm);
\draw[isa] (cr_pephorm) .. controls (700,560) and (500,520) .. (cr_horm);
\draw[isa] (reg_cr_ins) .. controls (990,700) and (970,360) .. (reg_resp_stim);
\draw[isa] (reg_cr_ins) .. controls (1600,880) and (2050,640) .. (2250,545) .. controls (2480,520) and (2480,420) .. (reg_cellproc);
\draw[isa] (pos_reg_cr_ins) .. controls (1900,1000) and (2600,1000) .. (2609,800) .. controls (2609,600) and (2630,500) .. (pos_reg_cellproc);
\draw[isa] (pos_reg_irsp) .. controls (1990,1140) and (1970,800) .. (pos_reg_sigtrans);
\draw[isa] (pos_reg_sigtrans) .. controls (1850,540) and (1600,470) .. (pos_reg_resp_stim);
\end{pgfonlayer}
\end{tikzpicture}
\end{document}
